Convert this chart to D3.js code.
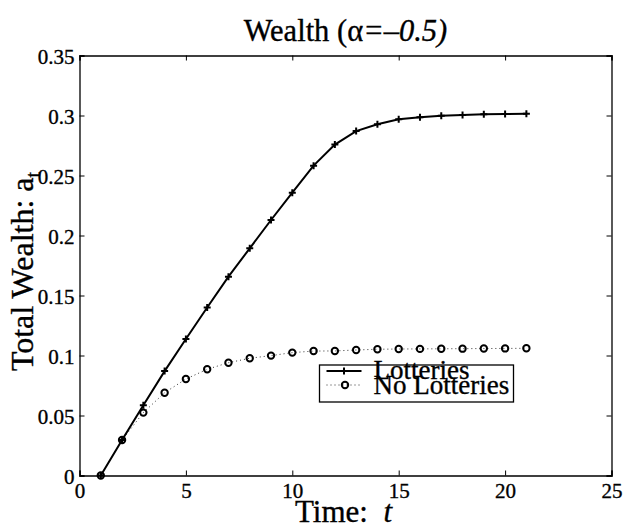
<!DOCTYPE html>
<html>
<head>
<meta charset="utf-8">
<style>
  body { margin: 0; background: #fff; }
  text { font-family: "Liberation Serif", "Times New Roman", serif; fill: #000; stroke: #000; stroke-width: 0.35px; }
  .ax text { font-family: "Liberation Serif", "Times New Roman", serif; font-size: 21px; fill: #000; }
</style>
</head>
<body>
<svg width="626" height="529"></svg>
<script src="https://cdn.jsdelivr.net/npm/d3@7"></script>
<script>

var times = [1, 2, 3, 4, 5, 6, 7, 8, 9, 10, 11, 12, 13, 14, 15, 16, 17, 18, 19, 20, 21];
var lotteries = [0, 0.0296, 0.0585, 0.087, 0.1137, 0.140, 0.1657, 0.1893, 0.2129, 0.2357, 0.2582,
                 0.2758, 0.287, 0.2927, 0.2968, 0.2985, 0.2998, 0.3004, 0.301, 0.3013, 0.3015];
var noLotteries = [0, 0.0296, 0.0524, 0.069, 0.0804, 0.0885, 0.094, 0.0977, 0.0999, 0.1024, 0.1037,
                   0.1038, 0.1046, 0.1052, 0.1054, 0.1055, 0.1056, 0.1057, 0.1058, 0.1059, 0.106];
var xTicks = [0, 5, 10, 15, 20, 25];
var yTicks = [0, 0.05, 0.1, 0.15, 0.2, 0.25, 0.3, 0.35];
var seriesNames = ["Lotteries", "No Lotteries"];

var svg = d3.select("svg"),
    margin = {left: 79.5, right: 14.5, top: 55.5, bottom: 53.5},
    width = +svg.attr("width") - margin.left - margin.right,
    height = +svg.attr("height") - margin.top - margin.bottom;

var x = d3.scaleLinear().domain([0, 25]).range([0, width]),
    y = d3.scaleLinear().domain([0, 0.35]).range([height, 0]);

var g = svg.append("g").attr("transform", "translate(" + margin.left + "," + margin.top + ")");

// axes, ticks pointing inward on all four sides
var fmt = function(d) { return String(+d.toFixed(2)); };
g.append("g").attr("class", "ax xb").attr("transform", "translate(0," + height + ")")
    .call(d3.axisBottom(x).tickValues(xTicks).tickSize(-5).tickPadding(8).tickFormat(fmt));
g.append("g").attr("class", "ax yl")
    .call(d3.axisLeft(y).tickValues(yTicks).tickSize(-5).tickPadding(5).tickFormat(fmt));
g.append("g").attr("class", "ax")
    .call(d3.axisTop(x).tickValues(xTicks).tickSize(-5).tickFormat(""));
g.append("g").attr("class", "ax").attr("transform", "translate(" + width + ",0)")
    .call(d3.axisRight(y).tickValues(yTicks).tickSize(-5).tickFormat(""));

g.selectAll(".ax").attr("font-family", null).attr("font-size", null);
g.selectAll(".ax path").attr("stroke", "#000").attr("stroke-width", 1.3);
g.selectAll(".ax line").attr("stroke", "#000").attr("stroke-width", 1);
g.selectAll(".yl text").attr("dy", "0.4em");
g.selectAll(".xb text").attr("dy", "0.71em");

// lines
var line = d3.line().x(function(d, i) { return x(times[i]); }).y(function(d) { return y(d); });

g.append("path").datum(noLotteries)
    .attr("fill", "none").attr("stroke", "#333").attr("stroke-width", 1)
    .attr("stroke-dasharray", "1,3").attr("d", line);

g.append("path").datum(lotteries)
    .attr("fill", "none").attr("stroke", "#000").attr("stroke-width", 2).attr("d", line);

function plusPath(s) { return "M" + (-s) + ",0H" + s + "M0," + (-s) + "V" + s; }

g.selectAll(".plus").data(lotteries).enter().append("path")
    .attr("transform", function(d, i) { return "translate(" + x(times[i]) + "," + y(d) + ")"; })
    .attr("d", plusPath(3.5)).attr("stroke", "#000").attr("stroke-width", 2);

g.selectAll(".circ").data(noLotteries).enter().append("circle")
    .attr("cx", function(d, i) { return x(times[i]); })
    .attr("cy", function(d) { return y(d); })
    .attr("r", 3.2).attr("fill", "none").attr("stroke", "#000").attr("stroke-width", 2);

// legend
var lg = svg.append("g").attr("transform", "translate(319.5,365)");
lg.append("rect").attr("width", 194).attr("height", 37)
    .attr("fill", "#fff").attr("stroke", "#000").attr("stroke-width", 1.3);
lg.append("line").attr("x1", 7).attr("x2", 42).attr("y1", 6).attr("y2", 6)
    .attr("stroke", "#000").attr("stroke-width", 2);
lg.append("path").attr("transform", "translate(24.5,6)").attr("d", plusPath(3.5))
    .attr("stroke", "#000").attr("stroke-width", 2);
lg.append("line").attr("x1", 7).attr("x2", 42).attr("y1", 20).attr("y2", 20)
    .attr("stroke", "#333").attr("stroke-width", 1).attr("stroke-dasharray", "1,3");
lg.append("circle").attr("cx", 25.5).attr("cy", 20).attr("r", 3.2)
    .attr("fill", "none").attr("stroke", "#000").attr("stroke-width", 2);
lg.selectAll(".lt").data(seriesNames).enter().append("text")
    .attr("x", 54).attr("y", function(d, i) { return 14 + i * 14.5; })
    .attr("font-size", 27).text(function(d) { return d; });

// title
var title = svg.append("text").attr("x", margin.left + width / 2).attr("y", 41)
    .attr("text-anchor", "middle").attr("font-size", 30.5);
title.append("tspan").text("Wealth (α");
title.append("tspan").attr("font-style", "italic").text("=–0.5)");

// x label
var xl = svg.append("text").attr("x", margin.left + width / 2 - 2).attr("y", 522)
    .attr("text-anchor", "middle").attr("font-size", 31);
xl.append("tspan").text("Time:\u00a0 ");
xl.append("tspan").attr("font-style", "italic").text("t");

// y label
var yl = svg.append("text")
    .attr("transform", "translate(33," + (margin.top + height / 2 + 6) + ") rotate(-90)")
    .attr("text-anchor", "middle").attr("font-size", 32);
yl.append("tspan").text("Total Wealth: a");
yl.append("tspan").attr("font-size", 20).attr("dy", 7).text("t");

</script>
</body>
</html>
